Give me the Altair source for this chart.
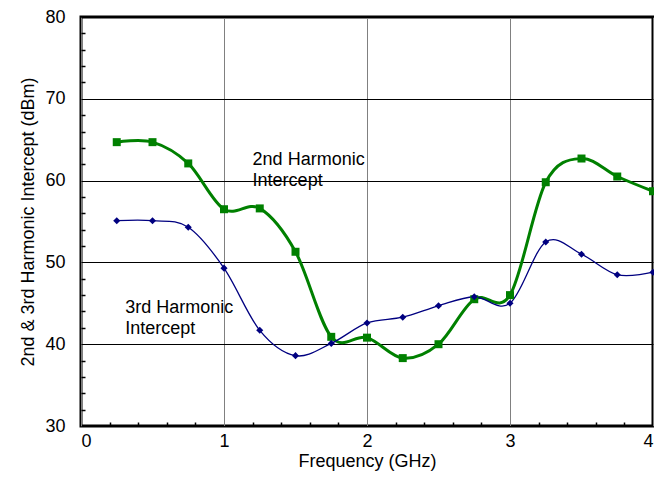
import altair as alt
import pandas as pd

# ---- data ----
freq = [0.25, 0.5, 0.75, 1.0, 1.25, 1.5, 1.75, 2.0, 2.25, 2.5, 2.75, 3.0, 3.25, 3.5, 3.75, 4.0]
second_harm = [64.7, 64.7, 62.1, 56.5, 56.6, 51.3, 40.9, 40.8, 38.3, 40.0, 45.5, 46.0, 59.8, 62.7, 60.5, 58.7]
third_harm = [55.1, 55.1, 54.3, 49.3, 41.7, 38.6, 40.1, 42.6, 43.3, 44.7, 45.8, 45.0, 52.5, 51.0, 48.5, 48.8]

label_text = ["2nd Harmonic", "Intercept", "3rd Harmonic", "Intercept"]
label_x = [1.2, 1.2, 0.31, 0.31]
label_y = [62.5, 60.0, 44.4, 41.9]

x_ticks = [0, 1, 2, 3, 4]
y_ticks = [30, 40, 50, 60, 70, 80]
x_minor = [0.2, 0.4, 0.6, 0.8, 1.2, 1.4, 1.6, 1.8, 2.2, 2.4, 2.6, 2.8, 3.2, 3.4, 3.6, 3.8]
y_minor = [32, 34, 36, 38, 42, 44, 46, 48, 52, 54, 56, 58, 62, 64, 66, 68, 72, 74, 76, 78]

FONT = "Liberation Sans"
FS = 18

df2 = pd.DataFrame({"f": freq, "v": second_harm})
df3 = pd.DataFrame({"f": freq, "v": third_harm})
lab = pd.DataFrame({"t": label_text, "x": label_x, "y": label_y})

xs = alt.Scale(domain=[0, 4], nice=False, zero=False)
ys = alt.Scale(domain=[30, 80], nice=False, zero=False)

x_axis = alt.Axis(orient="bottom", values=x_ticks, grid=True, gridColor="#808080", gridWidth=1,
                  domain=False, ticks=False, tickSize=0, labelPadding=6,
                  labelFont=FONT, labelFontSize=FS, labelColor="black",
                  title="Frequency (GHz)", titleFont=FONT, titleFontSize=FS,
                  titleFontWeight="normal", titleColor="black", titlePadding=2)
y_axis = alt.Axis(orient="left", values=y_ticks, grid=True, gridColor="black", gridWidth=1,
                  domain=False, ticks=False, tickSize=0, labelPadding=16,
                  labelFont=FONT, labelFontSize=FS, labelColor="black",
                  title="2nd & 3rd Harmonic Intercept (dBm)", titleFont=FONT,
                  titleFontSize=FS, titleFontWeight="normal", titleColor="black",
                  titlePadding=7)

x_minor_axis = alt.Axis(orient="bottom", values=x_minor, labels=False, domain=False,
                        grid=False, ticks=True, tickSize=4, tickColor="black",
                        tickWidth=1.5, offset=-4, title=None)
y_minor_axis = alt.Axis(orient="left", values=y_minor, labels=False, domain=False,
                        grid=False, ticks=True, tickSize=4, tickColor="black",
                        tickWidth=1.5, offset=-4, title=None)

minor = alt.Chart(df2).mark_point(opacity=0).encode(
    x=alt.X("f:Q", scale=xs, axis=x_minor_axis),
    y=alt.Y("v:Q", scale=ys, axis=y_minor_axis))
green_line = alt.Chart(df2).mark_line(color="#008000", strokeWidth=3,
                                      interpolate="cardinal").encode(
    x=alt.X("f:Q", scale=xs, axis=x_axis),
    y=alt.Y("v:Q", scale=ys, axis=y_axis))
green_pts = alt.Chart(df2).mark_point(shape="square", filled=True, color="#008000",
                                      size=64, opacity=1).encode(
    x=alt.X("f:Q", scale=xs, axis=None), y=alt.Y("v:Q", scale=ys, axis=None))
blue_line = alt.Chart(df3).mark_line(color="#000080", strokeWidth=1.3,
                                     interpolate="cardinal").encode(
    x=alt.X("f:Q", scale=xs, axis=None), y=alt.Y("v:Q", scale=ys, axis=None))
blue_pts = alt.Chart(df3).mark_point(shape="diamond", filled=True, color="#000080",
                                     size=50, opacity=1).encode(
    x=alt.X("f:Q", scale=xs, axis=None), y=alt.Y("v:Q", scale=ys, axis=None))
labels = alt.Chart(lab).mark_text(align="left", baseline="middle", font=FONT,
                                  fontSize=FS, color="black").encode(
    x=alt.X("x:Q", scale=xs, axis=None), y=alt.Y("y:Q", scale=ys, axis=None),
    text="t:N")

chart = alt.layer(green_line, minor, blue_line, green_pts, blue_pts, labels).resolve_axis(
    x="independent", y="independent").properties(
    width=572, height=409,
    padding={"left": 73, "top": 9, "right": 1, "bottom": 48},
    autosize=alt.AutoSizeParams(type="none"),
    background="white",
).configure_view(stroke="black", strokeWidth=3)

chart.save("out.html", embed_options={"renderer": "svg", "actions": False})
